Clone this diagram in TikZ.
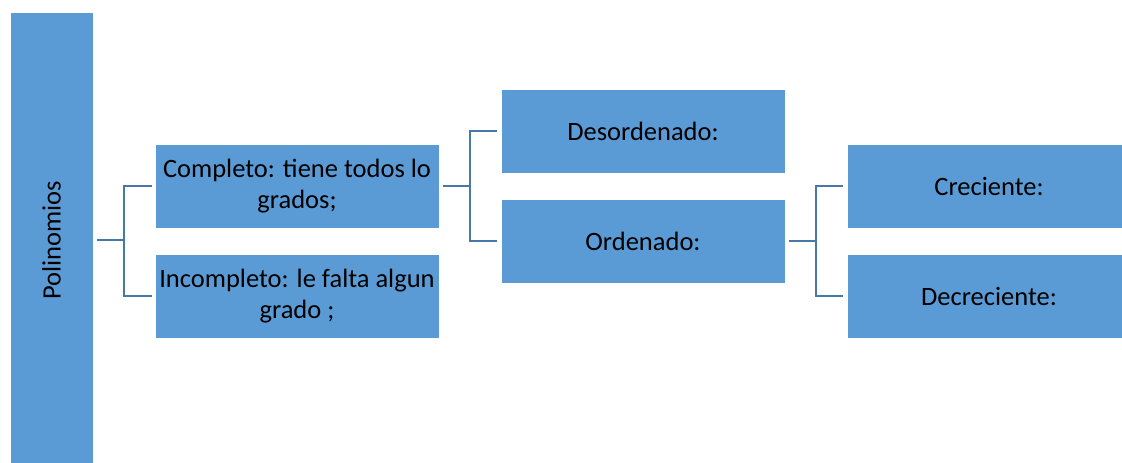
\documentclass[tikz,border=0pt]{standalone}
\usepackage{fontspec}
\setmainfont{Carlito}
\definecolor{boxblue}{RGB}{91,155,213}
\definecolor{linkblue}{RGB}{72,120,168}
\begin{document}
\begin{tikzpicture}[x=1pt,y=-1pt,
  box/.style={rectangle, fill=boxblue, draw=white, line width=0.6pt, inner sep=0pt,
    minimum width=284pt, minimum height=84pt, align=center,
    font=\fontsize{26.5}{30.5}\selectfont},
  conn/.style={draw=linkblue, line width=2pt}]
\clip (0,0) rectangle (1122,463);
\fill[white] (0,0) rectangle (1122,463);
\node[box, minimum width=83pt, minimum height=456pt] (poli) at (51.5,240) {};
\node[rotate=90, font=\fontsize{26.5}{30.5}\selectfont] (politext) at (poli.center) {Polinomios};
\node[box] (comp) at (297,186) {Completo: tiene todos lo\\grados;};
\node[box] (incomp) at (297,296) {Incompleto: le falta algun\\grado ;};
\node[box] (desord) at (643,131) {Desordenado:};
\node[box] (ord) at (643,241) {Ordenado:};
\node[box] (crec) at (989,186) {Creciente:};
\node[box] (decrec) at (989,296) {Decreciente:};
% bracket 1
\draw[conn] ([xshift=4pt]poli.east) -- +(27,0) coordinate (b1);
\draw[conn] ([xshift=-3pt]comp.west) -| (b1) |- ([xshift=-3pt]incomp.west);
% bracket 2
\draw[conn] ([xshift=4pt]comp.east) -- +(27,0) coordinate (b2);
\draw[conn] ([xshift=-4pt]desord.west) -| (b2) |- ([xshift=-4pt]ord.west);
% bracket 3
\draw[conn] ([xshift=4pt]ord.east) -- +(27,0) coordinate (b3);
\draw[conn] ([xshift=-4pt]crec.west) -| (b3) |- ([xshift=-4pt]decrec.west);
\end{tikzpicture}
\end{document}
